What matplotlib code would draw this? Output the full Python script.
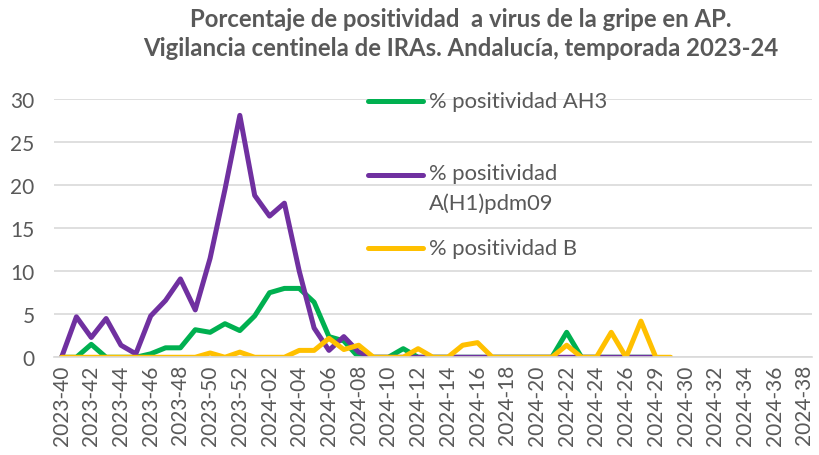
import numpy as np
import matplotlib
matplotlib.use("Agg")
from matplotlib import pyplot as plt

plt.rcParams["font.family"] = ["Lato", "DejaVu Sans"]

# semanas: 2023-40 ... 2023-52, 2024-01 ... 2024-38 (orden tal cual en la hoja)
weeks_2023 = list(range(40, 53))
weeks_2024 = list(range(1, 28)) + [29, 28] + list(range(30, 39))
semanas = [f"2023-{w:02d}" for w in weeks_2023] + [f"2024-{w:02d}" for w in weeks_2024]

ah3 = [0, 0, 1.5, 0, 0, 0, 0.4, 1.1, 1.1, 3.2, 2.9, 3.9, 3.1, 4.8, 7.5, 8.0,
       8.0, 6.4, 2.4, 1.9, 0, 0, 0, 1.0, 0, 0, 0, 0, 0, 0, 0, 0, 0, 0, 2.9,
       0, 0, 0, 0, 0, 0]
h1 = [0, 4.7, 2.3, 4.5, 1.4, 0.4, 4.8, 6.6, 9.1, 5.5, 11.5, 19.5, 28.1, 18.8,
      16.4, 17.9, 10.0, 3.4, 0.8, 2.4, 0.6, 0, 0, 0, 0, 0, 0, 0, 0, 0, 0, 0,
      0, 0, 0, 0, 0, 0, 0, 0, 0]
b = [0, 0, 0, 0, 0, 0, 0, 0, 0, 0, 0.5, 0, 0.6, 0, 0, 0, 0.8, 0.8, 2.2, 0.9,
     1.4, 0, 0, 0, 1.0, 0, 0, 1.4, 1.7, 0, 0, 0, 0, 0, 1.4, 0, 0, 2.9, 0, 4.2,
     0, 0]

series = [
    ("% positividad AH3", ah3, "#00b050"),
    ("% positividad\nA(H1)pdm09", h1, "#7030a0"),
    ("% positividad B", b, "#ffc000"),
]

gray = "#595959"
grid = "#d9d9d9"

fig = plt.figure(figsize=(8.2, 4.56), dpi=100)
ax = fig.add_axes([0.066, 0.2143, 0.924, 0.5664])

x = np.arange(len(semanas))
for label, vals, color in series:
    ax.plot(x[:len(vals)], vals, color=color, lw=3.6,
            solid_joinstyle="round", solid_capstyle="round")

ax.set_xlim(-0.5, len(semanas) - 0.5)
ax.set_ylim(0, 30)
ax.set_yticks(range(0, 31, 5))
ax.set_xticks(x[::2])
ax.set_xticklabels(semanas[::2], rotation=90)
ax.tick_params(axis="x", length=0, pad=5, labelsize=15, labelcolor=gray)
ax.tick_params(axis="y", length=0, pad=14, labelsize=15, labelcolor=gray)

ax.grid(axis="y", color=grid, lw=1.2)
ax.set_axisbelow(True)
for s in ["top", "right", "left"]:
    ax.spines[s].set_visible(False)
ax.spines["bottom"].set_color(grid)
ax.spines["bottom"].set_linewidth(1.2)

# leyenda dentro del area del grafico, como en Excel
leg_y = [0.993, 0.707, 0.423]
for (label, vals, color), yy in zip(series, leg_y):
    ax.plot([0.414, 0.487], [yy, yy], transform=ax.transAxes, color=color,
            lw=3.6, solid_capstyle="round", clip_on=False)
    if "\n" in label:
        ax.text(0.495, yy + 0.045, label, transform=ax.transAxes, fontsize=15.8,
                color=gray, va="top", linespacing=1.55)
    else:
        ax.text(0.495, yy, label, transform=ax.transAxes, fontsize=15.8,
                color=gray, va="center")

fig.text(0.562, 0.925,
         "Porcentaje de positividad  a virus de la gripe en AP.\n"
         "Vigilancia centinela de IRAs. Andalucía, temporada 2023-24",
         ha="center", va="center", fontsize=17.2, fontweight="bold",
         color=gray, linespacing=1.3)

fig.savefig("out.png", dpi=100)
